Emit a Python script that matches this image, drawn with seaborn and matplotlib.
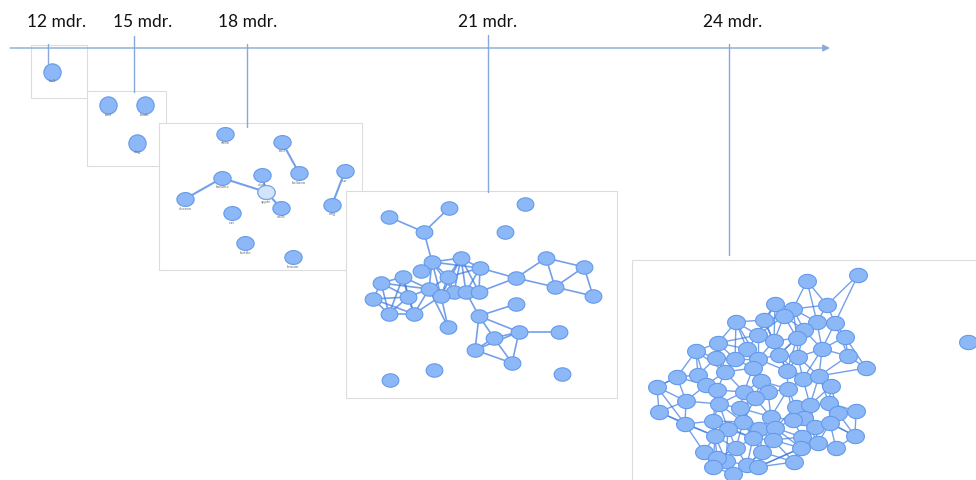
import matplotlib.pyplot as plt
import numpy as np
import seaborn as sns
from matplotlib.collections import LineCollection
from matplotlib.patches import Rectangle
from matplotlib.path import Path

# tidslinje
ages = ["12 mdr.", "15 mdr.", "18 mdr.", "21 mdr.", "24 mdr."]

# netværk ved 12 mdr.
p12_x = [52]
p12_y = [72]
p12_labels = ["ball"]
p12_edges = []

# netværk ved 15 mdr.
p15_x = [108, 145, 137]
p15_y = [105, 105, 143]
p15_labels = ["ball", "book", "dog"]
p15_edges = []

# netværk ved 18 mdr.
p18_x = [225, 282, 299, 345, 332, 222, 185, 262, 266, 281, 232, 245, 293]
p18_y = [134, 142, 173, 171, 205, 178, 199, 175, 192, 208, 213, 243, 257]
p18_labels = ["shoe", "ball", "balloon", "car", "dog", "banana", "cheese",
              "duck", "apple", "sock", "cat", "bottle", "broom"]
p18_edges = [(1, 2), (3, 4), (6, 5), (5, 8), (7, 8), (8, 9)]

# netværk ved 21 mdr.
p21_x = [389, 449, 525, 424, 505, 432, 461, 421, 480, 546, 584, 516, 555, 593,
         381, 403, 448, 429, 454, 466, 479, 441, 373, 408, 389, 414, 516, 479,
         448, 519, 559, 494, 475, 512, 434, 562, 390]
p21_y = [217, 208, 204, 232, 232, 262, 258, 271, 268, 258, 267, 278, 287, 296,
         283, 277, 277, 289, 292, 292, 292, 296, 299, 297, 314, 314, 304, 316,
         327, 332, 332, 338, 350, 363, 370, 374, 380]
p21_edges = [(0, 3), (1, 3), (3, 5), (5, 6), (5, 16), (5, 17), (5, 8), (6, 8),
             (6, 16), (6, 18), (6, 19), (8, 16), (8, 19), (8, 20), (8, 11),
             (16, 17), (16, 18), (16, 21), (17, 21), (17, 18), (18, 19),
             (19, 20), (20, 11), (14, 15), (14, 22), (14, 23), (14, 24),
             (15, 23), (15, 24), (15, 25), (22, 23), (22, 24), (23, 24),
             (23, 25), (24, 25), (15, 17), (23, 17), (25, 21), (25, 17),
             (21, 28), (17, 28), (11, 9), (11, 12), (9, 10), (9, 12), (10, 12),
             (10, 13), (12, 13), (19, 27), (27, 26), (27, 31), (27, 29),
             (27, 32), (31, 29), (31, 32), (31, 33), (29, 33), (29, 30),
             (32, 33), (32, 29), (5, 21), (6, 20), (22, 25), (14, 17),
             (5, 18), (6, 21)]

# netværk ved 24 mdr.
p24_x = [858, 807, 827, 775, 793, 764, 784, 817, 835, 736, 804, 845, 758, 774,
         797, 718, 747, 822, 848, 696, 735, 758, 779, 798, 866, 716, 725, 753,
         787, 803, 819, 677, 698, 761, 831, 657, 706, 717, 744, 768, 788, 755,
         686, 719, 740, 796, 810, 829, 659, 856, 838, 771, 804, 793, 685, 713,
         743, 728, 759, 775, 815, 830, 715, 753, 773, 802, 855, 818, 836, 704,
         736, 762, 801, 726, 717, 747, 758, 794, 713, 733, 968]
p24_y = [275, 281, 305, 304, 309, 320, 316, 322, 323, 322, 330, 337, 335, 341,
         338, 343, 349, 349, 356, 351, 359, 359, 355, 357, 368, 358, 372, 368,
         371, 379, 376, 377, 375, 381, 386, 387, 385, 390, 392, 392, 389, 398,
         401, 404, 408, 407, 405, 403, 412, 411, 413, 417, 418, 420, 424, 421,
         422, 429, 429, 428, 427, 423, 436, 438, 440, 437, 436, 443, 448, 452,
         448, 452, 448, 461, 458, 465, 467, 462, 467, 474, 342]
p24_edges = [(0, 2), (1, 4), (1, 7), (2, 7), (2, 8), (3, 4), (3, 5), (3, 6),
             (4, 6), (4, 7), (4, 10), (5, 6), (5, 12), (5, 13), (6, 10), (6, 13),
             (6, 14), (7, 8), (7, 10), (7, 17), (8, 11), (8, 17), (9, 12),
             (9, 15), (9, 16), (9, 20), (10, 14), (10, 17), (10, 23), (11, 17),
             (11, 18), (12, 13), (12, 16), (12, 21), (13, 14), (13, 22),
             (14, 22), (14, 23), (15, 19), (15, 16), (15, 20), (15, 25),
             (16, 20), (16, 21), (16, 27), (17, 18), (17, 23), (17, 30),
             (18, 24), (19, 25), (19, 31), (19, 32), (20, 21), (20, 25),
             (20, 26), (21, 22), (21, 27), (22, 23), (22, 28), (23, 29),
             (23, 30), (24, 30), (25, 26), (25, 32), (26, 27), (26, 36),
             (26, 37), (27, 33), (27, 38), (28, 29), (29, 30), (29, 40),
             (30, 34), (30, 47), (31, 32), (31, 35), (31, 42), (32, 36),
             (33, 38), (33, 39), (33, 41), (34, 47), (34, 50), (35, 42),
             (35, 48), (36, 37), (36, 42), (37, 38), (37, 43), (38, 41),
             (38, 44), (39, 40), (39, 41), (40, 45), (41, 44), (41, 51),
             (42, 48), (42, 54), (43, 44), (43, 55), (44, 56), (45, 46),
             (45, 52), (45, 53), (46, 47), (46, 52), (47, 50), (47, 49),
             (48, 54), (49, 50), (49, 66), (50, 61), (51, 53), (51, 58),
             (51, 59), (52, 53), (52, 60), (53, 59), (54, 55), (54, 62),
             (55, 56), (55, 57), (55, 62), (56, 57), (56, 58), (57, 63),
             (57, 70), (58, 59), (58, 63), (59, 64), (60, 61), (60, 65),
             (60, 67), (61, 66), (61, 68), (62, 69), (62, 74), (63, 64),
             (63, 70), (63, 71), (64, 72), (65, 67), (65, 72), (66, 68),
             (67, 68), (69, 74), (69, 78), (70, 73), (70, 75), (71, 76),
             (71, 75), (72, 77), (73, 74), (73, 79), (74, 78), (75, 76),
             (75, 79), (76, 77), (77, 65), (78, 79), (57, 62), (62, 73),
             (21, 33), (28, 40), (43, 57), (36, 43), (40, 53), (44, 58),
             (23, 28), (64, 65), (39, 51), (3, 13), (9, 5), (12, 15), (16, 26),
             (20, 27), (21, 28), (22, 29), (27, 39), (33, 40), (38, 43),
             (41, 56), (44, 51), (51, 64), (53, 65), (58, 64), (59, 65),
             (63, 75), (64, 71), (70, 74), (71, 77), (72, 76), (52, 67),
             (46, 60), (45, 59), (29, 46), (30, 46), (34, 46), (47, 61),
             (50, 66), (11, 24), (18, 30), (13, 21), (14, 28), (6, 12),
             (3, 12), (4, 14), (7, 14), (8, 18), (10, 22), (2, 4), (0, 8),
             (1, 2), (19, 26), (31, 36), (32, 37), (35, 31), (42, 43), (48, 62),
             (54, 69), (55, 63), (56, 63), (57, 73), (62, 78), (69, 73),
             (73, 75), (75, 71), (76, 72), (61, 67), (60, 72), (65, 68),
             (66, 61), (35, 54), (19, 36), (15, 26), (9, 21), (5, 22), (13, 28),
             (17, 29), (40, 51), (45, 60), (44, 63), (56, 70), (58, 71),
             (59, 72), (64, 77), (62, 70), (37, 55), (43, 56), (26, 38)]

sns.set_style("white")
plt.rcParams['font.family'] = ['Lato', 'DejaVu Sans']

fig = plt.figure(figsize=(9.76, 4.8), dpi=100)
ax = fig.add_axes([0, 0, 1, 1])
ax.set_xlim(0, 976)
ax.set_ylim(480, 0)
ax.axis("off")

# ellipseformet knude-markør
t = np.linspace(0, 2 * np.pi, 60)
oval = Path(np.column_stack([np.cos(t), 0.8 * np.sin(t)]))

node_face = "#8cb8f8"
node_edge = "#6499ea"
edge_col = "#3a78e0"

# (data, ramme, markør, størrelse, linjebredde)
panels = [
    (p12_x, p12_y, p12_edges, p12_labels, (31, 45, 56, 53), "o", 155, 1.2),
    (p15_x, p15_y, p15_edges, p15_labels, (87, 91, 79, 75), "o", 155, 1.2),
    (p18_x, p18_y, p18_edges, p18_labels, (159, 123, 203, 147), oval, 155, 1.5),
    (p21_x, p21_y, p21_edges, None, (346, 191, 271, 207), oval, 145, 1.2),
    (p24_x, p24_y, p24_edges, None, (632, 260, 350, 225), oval, 165, 1.0),
]

for k, (xs, ys, edges, labels, box, mk, size, lw) in enumerate(panels):
    z = 10 * (k + 1)
    ax.add_patch(Rectangle(box[:2], box[2], box[3], facecolor="white",
                           edgecolor="#dcdcdc", lw=0.8, zorder=z))
    if edges:
        segs = [[(xs[a], ys[a]), (xs[b], ys[b])] for a, b in edges]
        ax.add_collection(LineCollection(segs, colors=edge_col, alpha=0.7,
                                         linewidths=lw, zorder=z + 1))
    sns.scatterplot(x=xs, y=ys, ax=ax, marker=mk, s=size, color=node_face,
                    edgecolor=node_edge, linewidth=0.8, zorder=z + 2,
                    legend=False)
    if labels:
        for x, y, lab in zip(xs, ys, labels):
            ax.text(x, y + 9.5, lab, fontsize=3.2, color="#707070",
                    ha="center", va="center", zorder=z + 3)

# fremhævet knude ved 18 mdr. (apple)
sns.scatterplot(x=[p18_x[8]], y=[p18_y[8]], ax=ax, marker=oval, s=155,
                color="#d2e3fc", edgecolor="#7aa6ea", linewidth=0.8,
                zorder=33, legend=False)

# tidslinje med pil og markeringer
line_col = "#86a9d9"
ax.annotate("", xy=(830, 48), xytext=(10, 48), zorder=100,
            arrowprops=dict(arrowstyle="-|>", color=line_col, lw=1.0,
                            mutation_scale=10, shrinkA=0, shrinkB=0))
tick_x = [48, 134, 247, 488, 729]
tick_top = [44, 36, 44, 35, 44]
tick_bottom = [64, 92, 127, 192, 255]
label_x = [57, 143, 248, 488, 733]
for lab, tx, t0, t1, lx in zip(ages, tick_x, tick_top, tick_bottom, label_x):
    ax.plot([tx, tx], [t0, t1], color=line_col, lw=1.0, zorder=100)
    ax.text(lx, 22, lab, fontsize=12.5, color="#111111", ha="center",
            va="center", zorder=101)

fig.savefig("out.png", dpi=100)
